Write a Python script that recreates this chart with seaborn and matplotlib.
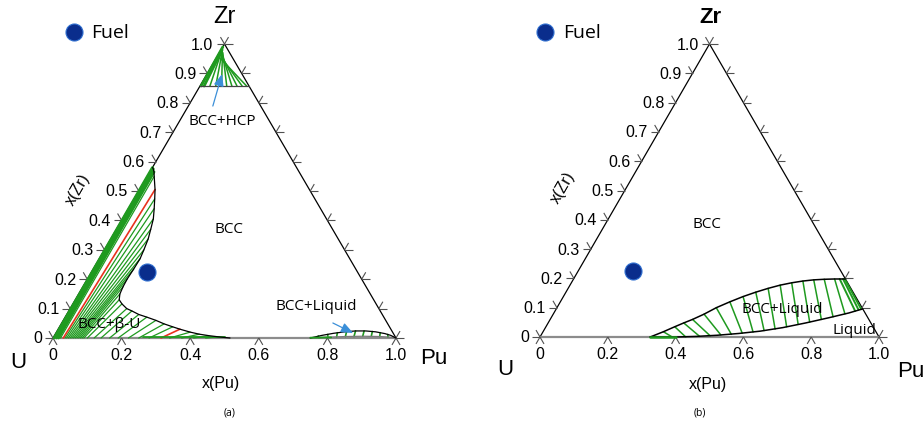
import numpy as np
import pandas as pd
import matplotlib
matplotlib.use("Agg")
import matplotlib.pyplot as plt
import seaborn as sns

sns.set_theme(style="white")
plt.rcParams["font.family"] = ["Liberation Sans", "DejaVu Sans"]
plt.rcParams["text.color"] = "black"

W, H, DPI = 924, 435, 100

GREEN = "#1f9a1f"
RED = "#e8321e"
NAVY = "#0a2d8c"
TICK = "#505050"
LABEL_FONT = ["Open Sans", "DejaVu Sans"]

# ---------------------------------------------------------------- data
# fuel composition, mole fractions
fuel_pu, fuel_zr = 0.16, 0.226

left_ticks = [0.0, 0.1, 0.2, 0.3, 0.4, 0.5, 0.6, 0.7, 0.8, 0.9, 1.0]
left_tick_labels = ["0", "0.1", "0.2", "0.3", "0.4", "0.5", "0.6", "0.7", "0.8", "0.9", "1.0"]
bottom_ticks = [0.0, 0.2, 0.4, 0.6, 0.8, 1.0]
bottom_tick_labels = ["0", "0.2", "0.4", "0.6", "0.8", "1.0"]
right_ticks = [0.0, 0.1, 0.2, 0.3, 0.4, 0.5, 0.6, 0.7, 0.8, 0.9, 1.0]

# (a) BCC boundary of the BCC + beta-U field
a_bcc_pu = [0.0, 0.005, 0.012, 0.02, 0.045, 0.06, 0.075, 0.09, 0.10, 0.109, 0.115,
            0.119, 0.118, 0.116, 0.117, 0.12, 0.128, 0.143, 0.165, 0.184, 0.21,
            0.238, 0.27, 0.30, 0.33, 0.355, 0.39, 0.42, 0.45, 0.48, 0.516]
a_bcc_zr = [0.58, 0.575, 0.565, 0.55, 0.505, 0.473, 0.44, 0.405, 0.37, 0.337, 0.30,
            0.27, 0.235, 0.20, 0.175, 0.15, 0.13, 0.116, 0.10, 0.092, 0.08,
            0.071, 0.06, 0.048, 0.038, 0.030, 0.02, 0.013, 0.008, 0.004, 0.0]

# (a) BCC + beta-U tie lines: beta-U end (on the U-Pu side) -> BCC end
a_beta_thick_pu = [0.003, 0.010, 0.016]
a_bcc_thick_pu = [0.0, 0.005, 0.012]
a_bcc_thick_zr = [0.58, 0.575, 0.565]

a_beta_red_pu = [0.030, 0.315]
a_bcc_red_pu = [0.045, 0.355]
a_bcc_red_zr = [0.505, 0.030]

a_beta_pu = [0.022, 0.035, 0.040, 0.045, 0.050, 0.055, 0.060, 0.065, 0.070, 0.075,
             0.080, 0.085, 0.090, 0.100, 0.120, 0.140, 0.165, 0.190, 0.220, 0.250,
             0.280, 0.340, 0.375, 0.410, 0.445]
a_bcc_tie_pu = [0.02, 0.06, 0.075, 0.09, 0.10, 0.109, 0.115, 0.119, 0.118, 0.116,
                0.117, 0.12, 0.128, 0.143, 0.165, 0.184, 0.21, 0.238, 0.27, 0.30,
                0.33, 0.39, 0.42, 0.45, 0.48]
a_bcc_tie_zr = [0.55, 0.473, 0.44, 0.405, 0.37, 0.337, 0.30, 0.27, 0.235, 0.20,
                0.175, 0.15, 0.13, 0.116, 0.10, 0.092, 0.08, 0.071, 0.06, 0.048,
                0.038, 0.02, 0.013, 0.008, 0.004]

# (a) BCC + HCP field near the Zr corner
a_hcp_zr = 0.857
a_hcp_top_pu = [0.0, 0.003, 0.004, 0.006, 0.008, 0.010, 0.011, 0.012, 0.013, 0.014]
a_hcp_top_zr = [0.99, 0.98, 0.975, 0.975, 0.972, 0.970, 0.965, 0.960, 0.955, 0.950]
a_hcp_bot_pu = [0.003, 0.012, 0.029, 0.046, 0.063, 0.078, 0.093, 0.108, 0.123, 0.136]

# (a) BCC + Liquid lens on the U-Pu side
a_lens_up_pu = [0.75, 0.78, 0.81, 0.84, 0.87, 0.90, 0.93, 0.96, 0.98, 1.0]
a_lens_up_zr = [0.0, 0.009, 0.016, 0.021, 0.024, 0.024, 0.021, 0.015, 0.009, 0.0]
a_lens_lo_pu = [0.75, 0.80, 0.85, 0.90, 0.95, 0.98, 1.0]
a_lens_lo_zr = [0.0, 0.003, 0.005, 0.006, 0.005, 0.003, 0.0]
a_lens_tie_lo_pu = [0.775, 0.80, 0.825, 0.85, 0.875, 0.90, 0.925, 0.95, 0.975]
a_lens_tie_lo_zr = [0.001, 0.003, 0.004, 0.005, 0.005, 0.006, 0.006, 0.005, 0.003]
a_lens_tie_up_pu = [0.77, 0.795, 0.82, 0.845, 0.87, 0.895, 0.92, 0.945, 0.97]
a_lens_tie_up_zr = [0.007, 0.012, 0.018, 0.022, 0.024, 0.024, 0.022, 0.018, 0.012]

# (b) BCC + Liquid field
b_up_pu = [0.325, 0.355, 0.38, 0.40, 0.42, 0.445, 0.47, 0.50, 0.53, 0.56, 0.59,
           0.62, 0.65, 0.68, 0.71, 0.74, 0.77, 0.802]
b_up_zr = [0.0, 0.018, 0.035, 0.048, 0.06, 0.078, 0.10, 0.12, 0.138, 0.153, 0.166,
           0.177, 0.185, 0.191, 0.195, 0.197, 0.198, 0.198]
b_lo_pu = [0.325, 0.40, 0.46, 0.52, 0.58, 0.64, 0.70, 0.76, 0.82, 0.87, 0.904]
b_lo_zr = [0.0, 0.0, 0.002, 0.006, 0.012, 0.02, 0.032, 0.048, 0.066, 0.082, 0.096]

b_tie_bcc_pu = [0.355, 0.38, 0.40, 0.42, 0.445, 0.47, 0.50, 0.53, 0.56, 0.59, 0.62,
                0.65, 0.68, 0.71, 0.74, 0.77]
b_tie_bcc_zr = [0.018, 0.035, 0.048, 0.06, 0.078, 0.10, 0.12, 0.138, 0.153, 0.166,
                0.177, 0.185, 0.191, 0.195, 0.197, 0.198]
b_tie_liq_pu = [0.39, 0.43, 0.47, 0.50, 0.53, 0.56, 0.59, 0.62, 0.65, 0.68, 0.71,
                0.74, 0.77, 0.80, 0.83, 0.86]
b_tie_liq_zr = [0.0, 0.0, 0.002, 0.004, 0.007, 0.009, 0.013, 0.017, 0.022, 0.027,
                0.035, 0.043, 0.051, 0.060, 0.069, 0.079]

b_thick_bcc_pu = [0.785, 0.795, 0.80]
b_thick_bcc_zr = [0.198, 0.198, 0.198]
b_thick_liq_pu = [0.885, 0.893, 0.90]
b_thick_liq_zr = [0.089, 0.093, 0.095]


# ---------------------------------------------------------------- helpers
def cart(pu, zr):
    pu = np.asarray(pu, float)
    zr = np.asarray(zr, float)
    return pu + zr / 2.0, zr


def ties(ax, p1, z1, p2, z2, color, lw):
    rows = []
    for i, (a, b, c, d) in enumerate(zip(p1, z1, p2, z2)):
        x1, y1 = cart(a, b)
        x2, y2 = cart(c, d)
        rows += [(i, float(x1), float(y1)), (i, float(x2), float(y2))]
    df = pd.DataFrame(rows, columns=["tie", "x", "y"])
    sns.lineplot(data=df, x="x", y="y", units="tie", estimator=None, sort=False,
                 color=color, lw=lw, ax=ax, legend=False)


def curve(ax, pu, zr, color="black", lw=1.0):
    x, y = cart(pu, zr)
    sns.lineplot(x=x, y=y, sort=False, estimator=None, color=color, lw=lw, ax=ax)


def frame(ax, sx, sy, tick_gap):
    # triangle edges
    ax.plot([0, 0.5], [0, 1], color="black", lw=0.9)
    ax.plot([1, 0.5], [0, 1], color="black", lw=0.9)
    ax.plot([0, 1], [0, 0], color="#8c8c8c", lw=1.6)

    L = 8.0
    e_l = np.array([0.5 * sx, sy]); e_l /= np.linalg.norm(e_l)
    e_r = np.array([-0.5 * sx, sy]); e_r /= np.linalg.norm(e_r)

    def ray(p, d):
        ax.plot([p[0], p[0] + d[0] * L / sx], [p[1], p[1] + d[1] * L / sy],
                color=TICK, lw=0.8, solid_capstyle="butt")

    for z, lab in zip(left_ticks, left_tick_labels):
        p = (z / 2.0, z)
        ray(p, (-1.0, 0.0))
        ray(p, e_r)
        ax.text(p[0] - tick_gap / sx, p[1], lab, ha="right", va="center",
                fontsize=11.5, color="black")
    for z in right_ticks:
        p = (1 - z / 2.0, z)
        ray(p, (1.0, 0.0))
        ray(p, e_l)
    for v, lab in zip(bottom_ticks, bottom_tick_labels):
        p = (v, 0.0)
        ray(p, -e_l)
        ray(p, -e_r)
        ax.text(v, -17.0 / sy, lab, ha="center", va="center",
                fontsize=11.5, color="black")


def setup_axes(fig, x0px, x1px, base_px, apex_px):
    ax = fig.add_axes([0, 0, 1, 1])
    ax.patch.set_alpha(0)
    sx = x1px - x0px
    sy = apex_px - base_px
    ax.set_xlim(-x0px / sx, (W - x0px) / sx)
    ax.set_ylim(-base_px / sy, (H - base_px) / sy)
    return ax, sx, sy


fig = plt.figure(figsize=(W / DPI, H / DPI), dpi=DPI)
fig.patch.set_facecolor("white")

# ================================================================= (a)
ax, sx, sy = setup_axes(fig, 53, 396, 435 - 339, 435 - 45)
frame(ax, sx, sy, 11)

# BCC + beta-U
ties(ax, a_beta_pu, [0] * len(a_beta_pu), a_bcc_tie_pu, a_bcc_tie_zr, GREEN, 0.9)
ties(ax, a_beta_thick_pu, [0] * 3, a_bcc_thick_pu, a_bcc_thick_zr, GREEN, 2.0)
ties(ax, a_beta_red_pu, [0] * 2, a_bcc_red_pu, a_bcc_red_zr, RED, 1.2)
gx, gy = cart([0.26, 0.50], [0.002, 0.002])
ax.plot(gx, gy, color=GREEN, lw=1.3)
curve(ax, a_bcc_pu, a_bcc_zr, "black", 0.9)

# BCC + HCP
ties(ax, a_hcp_top_pu[2:], a_hcp_top_zr[2:], a_hcp_bot_pu[2:],
     [a_hcp_zr] * (len(a_hcp_bot_pu) - 2), GREEN, 1.1)
ties(ax, a_hcp_top_pu[:2], a_hcp_top_zr[:2], a_hcp_bot_pu[:2], [a_hcp_zr] * 2, GREEN, 2.0)
hx, hy = cart([0.0, 1 - a_hcp_zr], [a_hcp_zr, a_hcp_zr])
ax.plot(hx, hy, color="#444444", lw=0.9)

# BCC + Liquid lens
ties(ax, a_lens_tie_lo_pu, a_lens_tie_lo_zr, a_lens_tie_up_pu, a_lens_tie_up_zr, GREEN, 1.2)
curve(ax, a_lens_lo_pu, a_lens_lo_zr, "#7a7a7a", 0.9)
curve(ax, a_lens_up_pu, a_lens_up_zr, "black", 0.9)
lx, ly = cart([0.75, 0.81], [0.001, 0.002])
ax.plot(lx, ly, color=GREEN, lw=1.3)

fx, fy = cart([fuel_pu], [fuel_zr])
sns.scatterplot(x=fx, y=fy, s=150, color=NAVY, edgecolor="#2f6fd0", linewidth=0.8,
                ax=ax, legend=False, zorder=5)

ax.text(0.513, 0.374, "BCC", ha="center", va="center", fontsize=11, family=LABEL_FONT)
ax.text(0.493, 0.741, "BCC+HCP", ha="center", va="center", fontsize=11, family=LABEL_FONT)
ax.text(0.163, 0.051, "BCC+β-U", ha="center", va="center", fontsize=11, family=LABEL_FONT)
ax.text(0.767, 0.109, "BCC+Liquid", ha="center", va="center", fontsize=11, family=LABEL_FONT)
arrow = dict(arrowstyle="-|>,head_length=0.6,head_width=0.25", color="#3b8fd8",
             lw=0.9, shrinkA=0, shrinkB=0)
ax.annotate("", xy=(0.493, 0.898), xytext=(0.466, 0.789), arrowprops=arrow)
ax.annotate("", xy=(0.875, 0.017), xytext=(0.816, 0.051), arrowprops=arrow)

ax.text(0.499, 1.095, "Zr", ha="center", va="center", fontsize=17)
ax.text(-0.102, -0.080, "U", ha="center", va="center", fontsize=16)
ax.text(1.111, -0.068, "Pu", ha="center", va="center", fontsize=16)
ax.text(0.49, -0.153, "x(Pu)", ha="center", va="center", fontsize=11.5)
ax.text(0.073, 0.507, "x(Zr)", ha="center", va="center", fontsize=11.5, rotation=60)
ax.text(0.516, -0.252, "(a)", ha="center", va="center", fontsize=7.5, family=LABEL_FONT)
ax.scatter([0.061], [1.041], s=150, color=NAVY, edgecolor="#2f6fd0", linewidth=0.8)
ax.text(0.112, 1.041, "Fuel", ha="left", va="center", fontsize=14, family=LABEL_FONT)
ax.set_axis_off()
ax.set_xlim(-53 / sx, (W - 53) / sx)
ax.set_ylim(-(435 - 339) / sy, (339) / sy)

# ================================================================= (b)
bx, sxb, syb = setup_axes(fig, 540, 879, 435 - 338, 435 - 45)
frame(bx, sxb, syb, 11)

ties(bx, b_tie_bcc_pu, b_tie_bcc_zr, b_tie_liq_pu, b_tie_liq_zr, GREEN, 1.1)
ties(bx, b_thick_bcc_pu, b_thick_bcc_zr, b_thick_liq_pu, b_thick_liq_zr, GREEN, 1.4)
curve(bx, b_up_pu, b_up_zr, "black", 1.1)
curve(bx, b_lo_pu, b_lo_zr, "black", 1.1)
gx, gy = cart([0.325, 0.40], [0.0, 0.0])
bx.plot(gx, gy, color=GREEN, lw=1.8)

sns.scatterplot(x=fx, y=fy, s=150, color=NAVY, edgecolor="#2f6fd0", linewidth=0.8,
                ax=bx, legend=False, zorder=5)

bx.text(0.493, 0.389, "BCC", ha="center", va="center", fontsize=11, family=LABEL_FONT)
bx.text(0.714, 0.096, "BCC+Liquid", ha="center", va="center", fontsize=11, family=LABEL_FONT)
bx.text(0.929, 0.027, "Liquid", ha="center", va="center", fontsize=11, family=LABEL_FONT)

bx.text(0.504, 1.095, "Zr", ha="center", va="center", fontsize=16, fontweight="bold")
bx.text(-0.103, -0.109, "U", ha="center", va="center", fontsize=16)
bx.text(1.094, -0.116, "Pu", ha="center", va="center", fontsize=16)
bx.text(0.496, -0.160, "x(Pu)", ha="center", va="center", fontsize=11.5)
bx.text(0.068, 0.512, "x(Zr)", ha="center", va="center", fontsize=11.5, rotation=60)
bx.text(0.472, -0.256, "(b)", ha="center", va="center", fontsize=7.5, family=LABEL_FONT)
bx.scatter([0.015], [1.041], s=150, color=NAVY, edgecolor="#2f6fd0", linewidth=0.8)
bx.text(0.068, 1.041, "Fuel", ha="left", va="center", fontsize=14, family=LABEL_FONT)
bx.set_axis_off()
bx.set_xlim(-540 / sxb, (W - 540) / sxb)
bx.set_ylim(-(435 - 338) / syb, 338 / syb)

fig.savefig("out.png", dpi=DPI, facecolor="white")
